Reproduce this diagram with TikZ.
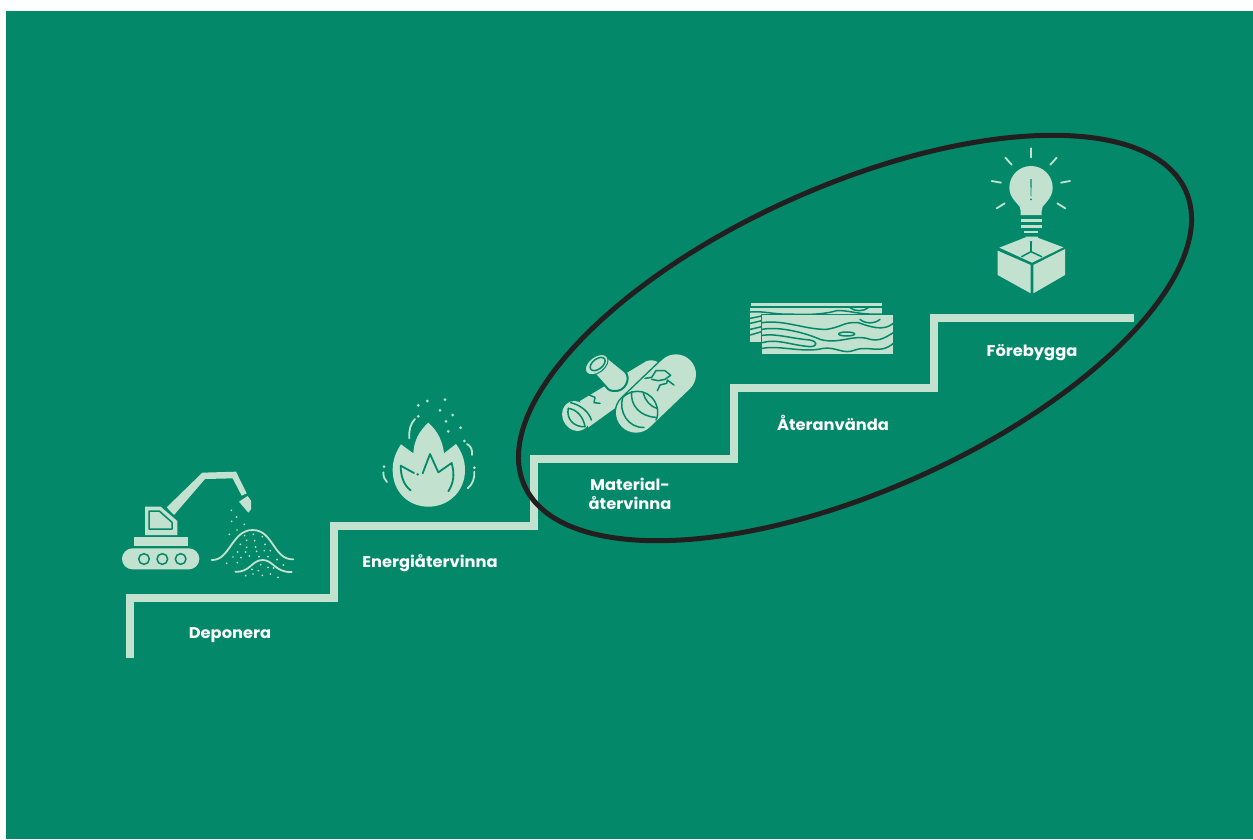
\documentclass[tikz,border=0pt]{standalone}
\usepackage{fontspec}
\setmainfont{Poppins}[FakeStretch=1.05]
\definecolor{stepgreen}{HTML}{03896A}
\definecolor{stepmint}{HTML}{C3E1CF}
\definecolor{ringblack}{HTML}{231F20}
\tikzset{
  stair/.style={draw=stepmint,line width=8pt,miter limit=10},
  solid/.style={fill=stepmint,draw=none},
  cut/.style={draw=stepgreen,line width=1.5pt,line cap=round,line join=round},
  mint/.style={draw=stepmint,line width=1.8pt,line cap=round},
  label/.style={text=white,font=\fontsize{15.5}{18.5}\selectfont\bfseries,align=center,inner sep=0pt},
}
\newcommand{\specks}[2]{\foreach \p in {#2} \fill[stepmint] \p circle (#1);}
\begin{document}
\begin{tikzpicture}[x=1pt,y=-1pt]
\useasboundingbox (0,0) rectangle (1253,839);
\fill[stepgreen] (6,11) rectangle (1253,839);

% stairs
\draw[stair] (130,658) -- (130,598) -- (334,598) -- (334,526) -- (534,526) -- (534,459) -- (734,459) -- (734,388) -- (934,388) -- (934,318) -- (1134,318);

% digger
\begin{scope}[shift={(110,450)},scale=1/3]
  \fill[stepmint,rounded corners=10.5pt] (36,295) rectangle (268,358);
  \foreach \x in {102,157,212}
    \draw[cut,fill=stepmint] (\x,327) circle (16);
  \fill[solid] (72,261) rectangle (234,288);
  \fill[solid] (105,170) -- (152,170) -- (202,213) -- (202,255) -- (105,255) -- cycle;
  \draw[cut] (117,183) -- (148,183) -- (186,217) -- (186,237) -- (117,237) -- cycle;
  \fill[solid] (170,172) -- (277,68) -- (378,65) -- (410,130) -- (395,137) -- (368,85) -- (285,87) -- (192,195) -- cycle;
  \fill[solid] (387,155) -- (413,138) -- (423,152) -- (423,178) -- (415,188) -- cycle;
  \draw[mint] (305,330) .. controls (360,332) and (365,240) .. (428,240) .. controls (490,240) and (490,330) .. (550,328);
  \draw[mint] (376,365) .. controls (420,368) and (425,330) .. (458,330) .. controls (490,330) and (495,368) .. (545,366);
  \specks{2.8}{(364,181),(380,201),(365,214),(403,223),(381,240),(358,253),(404,257),(430,253),(457,260),(410,271),(434,272),(391,283),(465,283),(410,292),(437,291),(383,306),(407,306),(440,304),(463,302),(481,302),(369,321),(393,323),(418,318),(447,320),(474,320),(501,329),(350,340),(382,338),(520,345),(452,344),(426,358),(445,362),(474,352),(491,354),(407,377),(429,372),(457,376),(481,372),(504,382)}
\end{scope}

% flame
\begin{scope}[shift={(370,385)},scale=1/3]
  \fill[solid] (175,113) .. controls (205,140) and (218,170) .. (222,205) -- (258,177) .. controls (275,200) and (285,225) .. (285,255) .. controls (285,320) and (235,365) .. (175,365) .. controls (115,365) and (68,320) .. (68,255) .. controls (68,225) and (78,200) .. (93,178) -- (130,205) .. controls (132,170) and (145,140) .. (175,113) -- cycle;
  \draw[cut,line width=1.8pt] (122,316) .. controls (100,300) and (92,270) .. (92,242) -- (132,264);
  \draw[cut,line width=1.8pt] (158,265) -- (180,207) -- (205,262) -- (245,234) .. controls (255,270) and (250,295) .. (235,319);
  \fill[stepgreen] (143,268) circle (4);
  \draw[mint] (118,160) .. controls (116,135) and (122,115) .. (135,102);
  \draw[mint] (291,177) .. controls (303,183) and (308,195) .. (306,210);
  \draw[mint] (40,262) .. controls (40,275) and (44,285) .. (51,291);
  \draw[mint] (313,260) .. controls (314,280) and (308,298) .. (293,310);
  \specks{4.5}{(145,61),(172,48),(225,44),(210,76),(248,90),(228,109),(145,94),(272,128),(235,139),(283,168),(42,245),(313,248)}
\end{scope}

% logs
\begin{scope}[shift={(550,340)},scale=1/3]
  \fill[solid] (90,183) -- (290,63) .. controls (305,58) and (320,62) .. (328,70) -- (215,190) -- (115,262) -- cycle;
  \fill[solid,rotate around={-60:(78,228)}] (78,228) ellipse [x radius=46,y radius=40];
  \draw[cut] (62,188) .. controls (95,196) and (118,218) .. (124,240);
  \draw[cut] (55,205) .. controls (48,235) and (70,262) .. (105,260);
  \draw[cut] (55,205) .. controls (80,208) and (100,230) .. (105,260);
  \draw[cut] (118,165) -- (135,172) -- (132,188) -- (150,190);
  \draw[draw=stepgreen,line width=43pt,line cap=round] (258,218) -- (378,103);
  \draw[draw=stepmint,line width=40pt,line cap=round] (258,218) -- (378,103);
  \draw[cut] (218,172) .. controls (250,140) and (310,150) .. (322,205) .. controls (325,220) and (322,232) .. (318,240);
  \draw[cut] (245,155) .. controls (240,195) and (270,230) .. (318,232);
  \draw[cut] (218,172) .. controls (205,215) and (235,265) .. (282,262);
  \draw[cut] (280,160) .. controls (285,180) and (300,200) .. (322,205);
  \draw[cut] (285,115) -- (305,112) -- (318,92) -- (345,92) -- (362,106) -- (345,118) -- (325,122) -- (305,118);
  \draw[cut] (322,152) -- (330,135) -- (350,130) -- (352,120) -- (372,135);
  \draw[solid,draw=stepgreen,line width=2pt] (170,50) -- (225,95) .. controls (245,115) and (225,155) .. (195,153) .. controls (185,153) and (180,152) .. (175,148) -- (135,103) -- cycle;
  \draw[solid,draw=stepgreen,line width=1pt,rotate around={38:(140,74)}] (140,74) ellipse [x radius=39,y radius=24];
  \draw[cut,rotate around={38:(143,72)}] (143,72) ellipse [x radius=26,y radius=15];
\end{scope}

% planks
\begin{scope}[shift={(740,290)},scale=1/3]
  \fill[solid] (33,40) rectangle (425,49);
  \fill[solid] (31,53) rectangle (425,155);
  \draw[cut] (31,66) .. controls (70,62) and (110,75) .. (150,72) .. controls (190,75) and (250,74) .. (290,62) .. controls (330,60) and (350,75) .. (425,72);
  \draw[cut] (330,53) .. controls (345,65) and (370,65) .. (385,53);
  \draw[cut] (31,85) -- (65,78);
  \draw[cut] (31,100) -- (65,92);
  \draw[cut] (31,118) -- (65,110);
  \draw[cut] (31,135) -- (65,125);
  \draw[stepgreen,line width=1.5pt,fill=stepmint] (65,75) rectangle (461,194);
  \fill[solid] (66,76) rectangle (460,85);
  \draw[cut] (67,98) .. controls (130,88) and (200,120) .. (260,118) .. controls (310,110) and (310,95) .. (355,98) .. controls (390,110) and (430,125) .. (460,100);
  \draw[cut] (360,88) .. controls (375,102) and (405,102) .. (420,88);
  \draw[cut] (67,118) .. controls (120,108) and (200,130) .. (240,148) .. controls (300,165) and (340,130) .. (390,148) .. controls (420,155) and (440,140) .. (460,128);
  \draw[cut] (320,132) ellipse [x radius=24,y radius=6];
  \draw[cut] (67,136) .. controls (110,130) and (150,145) .. (210,150) .. controls (235,155) and (232,170) .. (210,170) .. controls (150,165) and (110,145) .. (67,158);
  \draw[cut] (67,175) .. controls (120,165) and (190,190) .. (250,175) .. controls (290,170) and (310,195) .. (345,180) .. controls (390,165) and (420,195) .. (460,160);
\end{scope}

% bulb and box
\begin{scope}[shift={(980,140)},scale=1/3]
  \fill[solid] (153,78) .. controls (190,78) and (218,108) .. (218,143) .. controls (218,170) and (200,185) .. (188,200) .. controls (184,208) and (185,218) .. (185,225) -- (122,225) .. controls (122,218) and (123,208) .. (119,200) .. controls (107,185) and (88,170) .. (88,143) .. controls (88,108) and (116,78) .. (153,78) -- cycle;
  \fill[stepgreen] (151,117) -- (155,117) -- (154,168) -- (152,168) -- cycle;
  \fill[stepgreen] (153,178) circle (3);
  \fill[solid] (123,238) rectangle (185,245);
  \fill[solid] (123,256) rectangle (185,263);
  \fill[solid] (133,274) rectangle (175,280);
  \fill[solid] (136,290) -- (175,290) .. controls (170,300) and (162,305) .. (155,305) .. controls (148,305) and (140,300) .. (136,290) -- cycle;
  \foreach \a/\b in {{(153,25)}/{(153,52)},{(76,53)}/{(95,74)},{(230,53)}/{(211,74)},{(35,123)}/{(63,128)},{(270,123)}/{(243,128)},{(50,205)}/{(74,190)},{(256,205)}/{(232,190)}}
    \draw[mint] \a -- \b;
  \fill[solid] (58,323) -- (137,292) -- (153,308) -- (170,292) -- (250,322) -- (156,368) -- cycle;
  \draw[cut] (153,305) -- (153,335);
  \draw[cut] (125,350) -- (153,335) -- (185,350);
  \fill[solid] (53,332) -- (152,375) -- (152,460) -- (53,405) -- cycle;
  \fill[solid] (160,375) -- (255,327) -- (255,405) -- (160,460) -- cycle;
\end{scope}

% ring
\draw[ringblack,line width=5pt,rotate around={24:(855,338)}] (855,338) ellipse [x radius=362,y radius=152.5];

\node[label] (deponera) at (230,635.5) {Deponera};
\node[label] (energi) at (430,563.5) {Energiåtervinna};
\node[label] (material) at (630,494) {Material-\\återvinna};
\node[label] (ateranvanda) at (833,423) {Återanvända};
\node[label] (forebygga) at (1032,352.5) {Förebygga};
\end{tikzpicture}
\end{document}
